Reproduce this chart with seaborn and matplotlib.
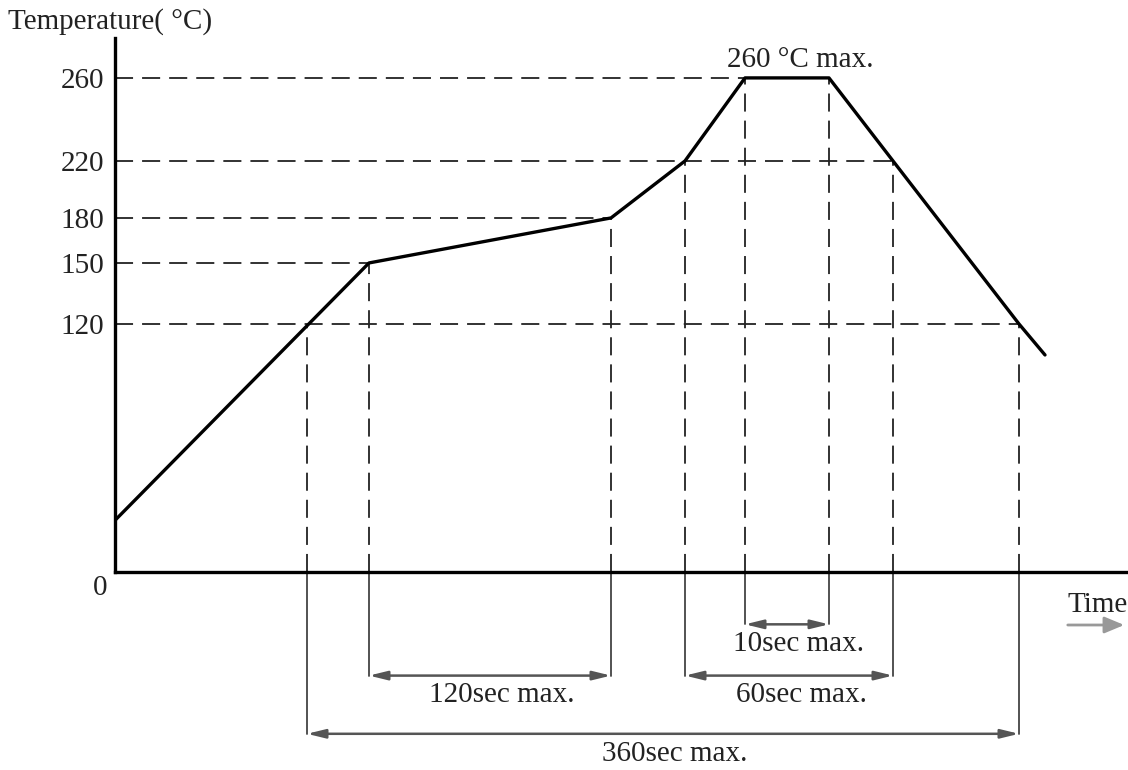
import numpy as np
import pandas as pd
import matplotlib
matplotlib.use("Agg")
import matplotlib.pyplot as plt
import matplotlib.transforms as mtransforms
import seaborn as sns

# reflow profile (time in s, schematic), temperature in degC
profile_time = [0, 127, 248, 285, 315, 357, 389, 452, 465]
profile_temp = [25, 150, 180, 220, 260, 260, 220, 120, 105]

temp_ticks = [120, 150, 180, 220, 260]

# points where the guide lines drop down to the time axis
mark_time = [96, 127, 248, 285, 315, 357, 389, 452]
mark_temp = [120, 150, 180, 220, 260, 260, 220, 120]

# time spans marked under the axis
span_labels = ["10sec max.", "60sec max.", "120sec max.", "360sec max."]
span_start = [315, 285, 127, 96]
span_end = [357, 389, 248, 452]

peak_label = "260 °C max."

sns.set_theme(style="white")
plt.rcParams['font.family'] = ['Liberation Serif', 'DejaVu Serif']

W, H = 1128, 770
fig = plt.figure(figsize=(W / 100, H / 100), dpi=100)
ax = fig.add_axes([115 / W, 198 / H, 1013 / W, 534 / H])

# the drawing is schematic, temperature is not spaced linearly
T_KNOTS = [0, 120, 150, 180, 220, 260, 280]
P_KNOTS = [0, 248, 309, 354, 411, 494, 536]
ax.set_yscale('function', functions=(lambda v: np.interp(v, T_KNOTS, P_KNOTS),
                                     lambda v: np.interp(v, P_KNOTS, T_KNOTS)))

df = pd.DataFrame({'time': profile_time, 'temp': profile_temp})
sns.lineplot(data=df, x='time', y='temp', ax=ax, color='black', lw=2.4,
             sort=False, estimator=None, zorder=5)

ax.set_xlim(0, 506.5)
ax.set_ylim(0, 279)
ax.set_xlabel('')
ax.set_ylabel('')
ax.set_xticks([])
ax.set_yticks(temp_ticks)
ax.tick_params(axis='y', length=0, pad=8, labelsize=21, colors='#222')
for s in ['top', 'right']:
    ax.spines[s].set_visible(False)
for s in ['left', 'bottom']:
    ax.spines[s].set_color('black')
    ax.spines[s].set_linewidth(2.4)
    ax.spines[s].set_zorder(6)

dash = (0, (10, 5))
guide = '#222222'
# horizontal guides
for temp in temp_ticks:
    xe = max(t for t, v in zip(mark_time, mark_temp) if v == temp)
    ax.plot([0, xe], [temp, temp], ls=dash, color=guide, lw=1.3)
# vertical guides down to the axis
for t, v in zip(mark_time, mark_temp):
    ax.plot([t, t], [0, v], ls=dash, color=guide, lw=1.3)

# dimension lines under the axis
blend = mtransforms.blended_transform_factory(ax.transData, ax.transAxes)
level = {"10sec max.": -0.098, "60sec max.": -0.194,
         "120sec max.": -0.194, "360sec max.": -0.303}
for lab, s, e in zip(span_labels, span_start, span_end):
    lv = level[lab]
    for x in (s, e):
        ax.plot([x, x], [0, lv], transform=blend, color='#444444', lw=1.3, clip_on=False)
    ax.annotate('', xy=(s, lv), xytext=(e, lv), xycoords=blend, textcoords=blend,
                arrowprops=dict(arrowstyle='<|-|>,head_length=0.9,head_width=0.22',
                                color='#555555', lw=1.8, shrinkA=0, shrinkB=0))
    # labels in the original sit a little right of centre
    ax.text((s + e) / 2 + 6, lv - 0.037, lab, transform=blend, ha='center', va='center',
            fontsize=21, color='#222')

ax.text(342.5, 0.959, peak_label, transform=blend, ha='center', va='center',
        fontsize=21, color='#222')

fig.text(8 / W, 1 - 22 / H, "Temperature( °C)", ha='left', va='center', fontsize=21, color='#222')
fig.text(100 / W, 1 - 588 / H, "0", ha='center', va='center', fontsize=21, color='#222')
fig.text(1098 / W, 1 - 605 / H, "Time", ha='center', va='center', fontsize=21, color='#222')
fig.patches.append(matplotlib.patches.FancyArrowPatch(
    (1065 / W, 1 - 625 / H), (1127 / W, 1 - 625 / H), transform=fig.transFigure,
    arrowstyle='-|>,head_length=0.6,head_width=0.25', color='#999999', lw=2,
    mutation_scale=20))

fig.savefig('out.png', dpi=100)
